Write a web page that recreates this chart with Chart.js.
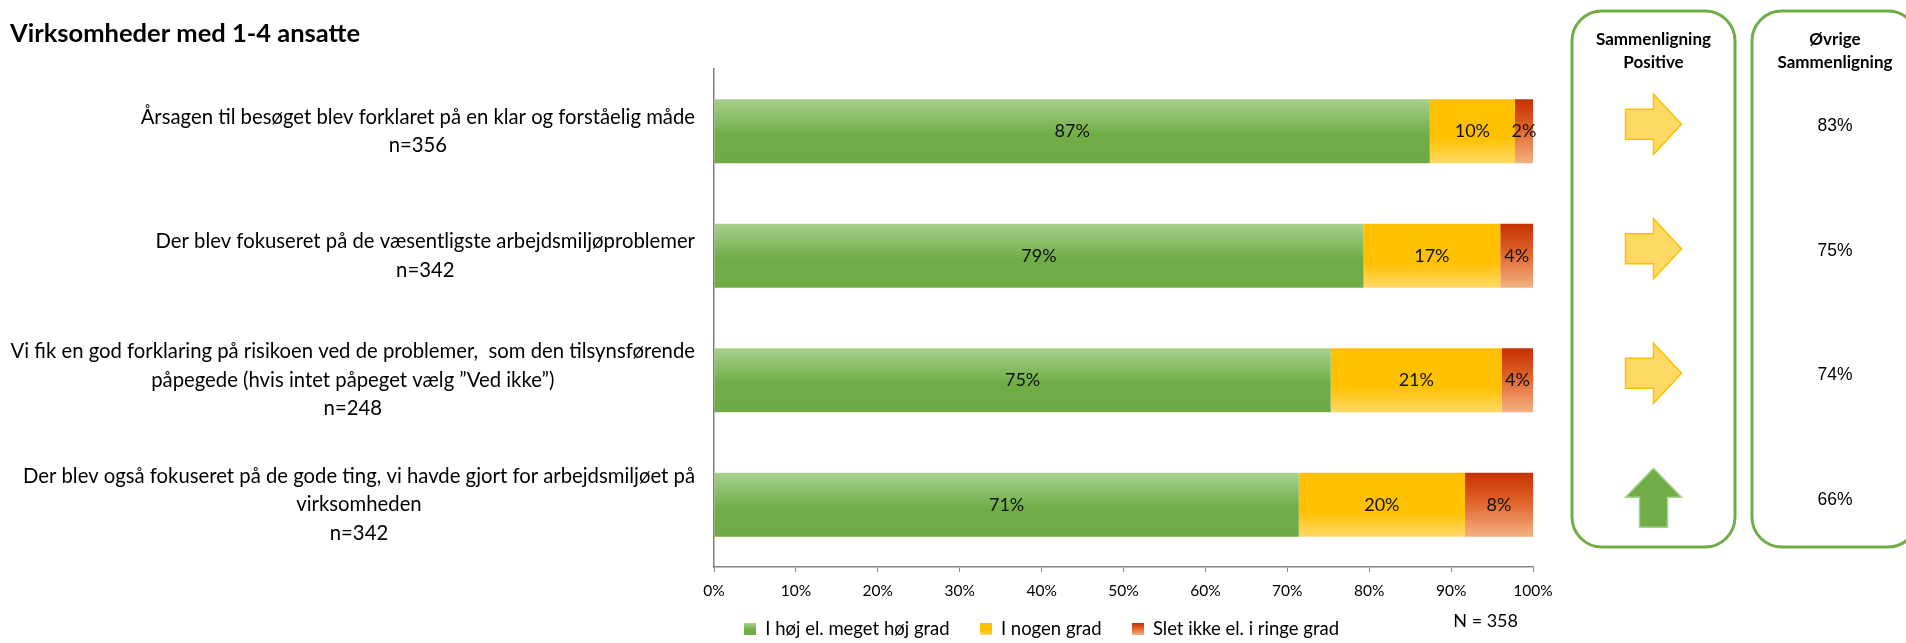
<!DOCTYPE html>
<html lang="da">
<head>
<meta charset="utf-8">
<title>Virksomheder med 1-4 ansatte</title>
<script src="https://cdn.jsdelivr.net/npm/chart.js@4.4.1/dist/chart.umd.min.js"></script>
<style>
  html, body { margin: 0; padding: 0; background: #fff; }
  canvas { display: block; }
</style>
</head>
<body>
<canvas id="tilsynChart" width="1906" height="643"></canvas>
<script>
// Spørgsmål (hver linje i sin egen streng)
const questions = [
  ['Årsagen til besøget blev forklaret på en klar og forståelig måde', 'n=356'],
  ['Der blev fokuseret på de væsentligste arbejdsmiljøproblemer', 'n=342'],
  ['Vi fik en god forklaring på risikoen ved de problemer,  som den tilsynsførende', 'påpegede (hvis intet påpeget vælg ”Ved ikke”)', 'n=248'],
  ['Der blev også fokuseret på de gode ting, vi havde gjort for arbejdsmiljøet på', 'virksomheden', 'n=342']
];
const seriesNames = ['I høj el. meget høj grad', 'I nogen grad', 'Slet ikke el. i ringe grad'];
const highDegree = [87.4, 79.3, 75.3, 71.4];
const someDegree = [10.4, 16.7, 20.9, 20.3];
const lowDegree = [2.2, 4.0, 3.8, 8.3];
const percentTicks = ['0%', '10%', '20%', '30%', '40%', '50%', '60%', '70%', '80%', '90%', '100%'];
const totalN = 358;

// Sammenligningskolonner
const panelHeaders = [['Sammenligning', 'Positive'], ['Øvrige', 'Sammenligning']];
const trendArrows = ['right', 'right', 'right', 'up'];
const otherComparison = [83, 75, 74, 66];

const FONT = 'Lato, "Open Sans", sans-serif';
const BAR_PCT = 0.515;
const LEGEND_PAD = 30;
const LEGEND_SIZE = 18.5;

const gradientStops = [
  [[0, '#a9d18e'], [0.55, '#70ad47'], [1, '#6eab45']],
  [[0, '#ffc000'], [0.6, '#ffc000'], [1, '#ffd966']],
  [[0, '#c63000'], [0.45, '#e0632a'], [1, '#f4b183']]
];

function barFill(stops) {
  return (ctx) => {
    const chart = ctx.chart;
    const y = chart.scales.y;
    if (!y || !chart.chartArea || ctx.dataIndex === undefined) return stops[1][1];
    const c = y.getPixelForValue(ctx.dataIndex);
    const half = (y.height / questions.length) * BAR_PCT / 2;
    const g = chart.ctx.createLinearGradient(0, c - half, 0, c + half);
    stops.forEach(s => g.addColorStop(s[0], s[1]));
    return g;
  };
}

// små firkanter til forklaringen
const legendSwatches = gradientStops.map(stops => {
  const c = document.createElement('canvas');
  c.width = 12; c.height = 12;
  const x = c.getContext('2d');
  const g = x.createLinearGradient(0, 0, 0, 12);
  stops.forEach(s => g.addColorStop(s[0], s[1]));
  x.fillStyle = g;
  x.fillRect(0, 0, 12, 12);
  return c;
});

const segmentLabels = {
  id: 'segmentLabels',
  afterDatasetsDraw(chart) {
    const ctx = chart.ctx;
    ctx.save();
    ctx.font = '18px ' + FONT;
    ctx.fillStyle = '#111';
    ctx.textAlign = 'center';
    ctx.textBaseline = 'middle';
    chart.data.datasets.forEach((ds, di) => {
      chart.getDatasetMeta(di).data.forEach((bar, i) => {
        ctx.fillText(Math.round(ds.data[i]) + '%', (bar.x + bar.base) / 2, bar.y);
      });
    });
    ctx.restore();
  }
};

const questionLabels = {
  id: 'questionLabels',
  afterDraw(chart) {
    const {ctx, scales: {y}} = chart;
    const right = chart.chartArea.left - 19;
    const lh = 28.5;
    ctx.save();
    ctx.font = '20.3px ' + FONT;
    ctx.fillStyle = '#000';
    ctx.textAlign = 'center';
    ctx.textBaseline = 'middle';
    questions.forEach((lines, i) => {
      const w = Math.max(...lines.map(t => ctx.measureText(t).width));
      const cx = right - w / 2;
      const cy = y.getPixelForValue(i);
      lines.forEach((t, k) => ctx.fillText(t, cx, cy + (k - (lines.length - 1) / 2) * lh));
    });
    // antal besvarelser i alt
    ctx.font = '18px ' + FONT;
    ctx.textAlign = 'right';
    ctx.fillText('N = ' + totalN, chart.chartArea.right - 15, 621);
    ctx.restore();
  }
};

// forklaringen skal stå tættere på aksen; kun toppen flyttes, så teksten ikke klippes
const legendLift = {
  id: 'legendLift',
  afterLayout(chart) {
    const lg = chart.legend;
    const lift = lg.top + LEGEND_PAD + LEGEND_SIZE / 2 - 629;
    lg.top -= lift;
    lg.height += lift;
  }
};

function roundedBox(ctx, x, y, w, h, r) {
  ctx.beginPath();
  ctx.moveTo(x + r, y);
  ctx.lineTo(x + w - r, y);
  ctx.arcTo(x + w, y, x + w, y + r, r);
  ctx.lineTo(x + w, y + h - r);
  ctx.arcTo(x + w, y + h, x + w - r, y + h, r);
  ctx.lineTo(x + r, y + h);
  ctx.arcTo(x, y + h, x, y + h - r, r);
  ctx.lineTo(x, y + r);
  ctx.arcTo(x, y, x + r, y, r);
  ctx.closePath();
}

function arrowPath(ctx, dir, cx, cy) {
  ctx.beginPath();
  if (dir === 'up') {
    ctx.moveTo(cx, cy - 29.5);
    ctx.lineTo(cx + 28, cy - 0.5);
    ctx.lineTo(cx + 14, cy - 0.5);
    ctx.lineTo(cx + 14, cy + 29.5);
    ctx.lineTo(cx - 14, cy + 29.5);
    ctx.lineTo(cx - 14, cy - 0.5);
    ctx.lineTo(cx - 28, cy - 0.5);
  } else {
    ctx.moveTo(cx - 28, cy - 15);
    ctx.lineTo(cx, cy - 15);
    ctx.lineTo(cx, cy - 30);
    ctx.lineTo(cx + 28, cy);
    ctx.lineTo(cx, cy + 30);
    ctx.lineTo(cx, cy + 15);
    ctx.lineTo(cx - 28, cy + 15);
  }
  ctx.closePath();
}

const comparisonPanels = {
  id: 'comparisonPanels',
  afterDraw(chart) {
    const {ctx, scales: {y}} = chart;
    const boxes = [{x: 1572, w: 163}, {x: 1752, w: 166}];
    ctx.save();
    ctx.lineWidth = 3;
    ctx.strokeStyle = '#70ad47';
    boxes.forEach(b => {
      roundedBox(ctx, b.x, 11, b.w, 536, 30);
      ctx.stroke();
    });
    ctx.fillStyle = '#000';
    ctx.textAlign = 'center';
    ctx.textBaseline = 'middle';
    ctx.font = 'bold 17px ' + FONT;
    panelHeaders.forEach((lines, p) => {
      const cx = boxes[p].x + boxes[p].w / 2;
      lines.forEach((t, k) => ctx.fillText(t, cx, 40 + k * 23));
    });
    const arrowX = boxes[0].x + boxes[0].w / 2;
    trendArrows.forEach((dir, i) => {
      const cy = y.getPixelForValue(i) - 7;
      arrowPath(ctx, dir, arrowX, cy);
      ctx.lineWidth = 1.5;
      if (dir === 'up') {
        ctx.fillStyle = '#70ad47';
        ctx.strokeStyle = '#a9d18e';
      } else {
        ctx.fillStyle = '#ffd966';
        ctx.strokeStyle = '#ffc000';
      }
      ctx.fill();
      ctx.stroke();
    });
    ctx.fillStyle = '#000';
    ctx.font = '17.5px "Liberation Sans", Arial, sans-serif';
    const valX = boxes[1].x + boxes[1].w / 2;
    otherComparison.forEach((v, i) => {
      ctx.fillText(v + '%', valX, y.getPixelForValue(i) - 5);
    });
    ctx.restore();
  }
};

const seriesValues = [highDegree, someDegree, lowDegree];

new Chart(document.getElementById('tilsynChart'), {
  type: 'bar',
  data: {
    labels: questions.map(q => q.join(' ')),
    datasets: seriesValues.map((vals, i) => ({
      label: seriesNames[i],
      data: vals,
      backgroundColor: barFill(gradientStops[i]),
      borderWidth: 0,
      categoryPercentage: 1,
      barPercentage: BAR_PCT
    }))
  },
  options: {
    indexAxis: 'y',
    responsive: false,
    animation: false,
    events: [],
    layout: { padding: { left: 10, right: 373, top: 0, bottom: 0 } },
    font: { family: FONT },
    scales: {
      x: {
        stacked: true,
        min: 0,
        max: 100,
        ticks: {
          stepSize: 10,
          padding: 10,
          color: '#000',
          font: { family: FONT, size: 15.5 },
          callback: (v, i) => percentTicks[i]
        },
        grid: { display: true, drawOnChartArea: false, drawTicks: true, tickLength: 5, color: '#868686' },
        border: { display: true, color: '#868686', width: 1.5 },
        afterFit(scale) { scale.height = 34; }
      },
      y: {
        stacked: true,
        ticks: { display: false },
        grid: { display: false },
        border: { display: true, color: '#7f7f7f', width: 1.5 },
        afterFit(scale) { scale.width = 704; }
      }
    },
    plugins: {
      tooltip: { enabled: false },
      title: {
        display: true,
        text: 'Virksomheder med 1-4 ansatte',
        align: 'start',
        color: '#000',
        font: { family: FONT, size: 25.5, weight: 'bold' },
        padding: { top: 18, bottom: 20.4 }
      },
      legend: {
        position: 'bottom',
        align: 'start',
        fullSize: false,
        maxHeight: 42,
        labels: {
          usePointStyle: true,
          boxWidth: 12,
          boxHeight: 12,
          padding: LEGEND_PAD,
          color: '#000',
          font: { family: FONT, size: LEGEND_SIZE },
          generateLabels(chart) {
            const items = Chart.defaults.plugins.legend.labels.generateLabels(chart);
            items.forEach((it, i) => { it.pointStyle = legendSwatches[i]; });
            return items;
          }
        }
      }
    }
  },
  plugins: [segmentLabels, questionLabels, comparisonPanels, legendLift]
});
</script>
</body>
</html>
